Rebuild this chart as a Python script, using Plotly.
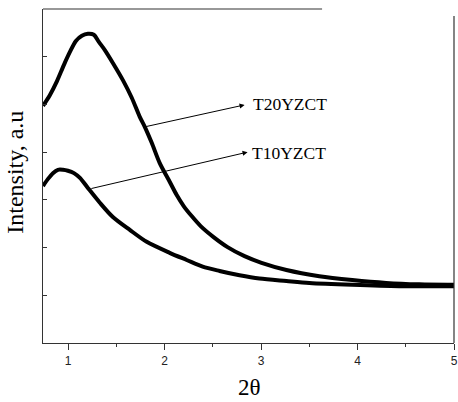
import plotly.graph_objects as go

# Small-angle XRD intensity profiles (arbitrary units)
two_theta_t20 = [0.740, 0.812, 0.885, 0.957, 1.019, 1.081, 1.143, 1.205, 1.267, 1.319,
                 1.381, 1.464, 1.568, 1.660, 1.743, 1.795, 1.868, 1.950, 2.053, 2.126,
                 2.198, 2.281, 2.374, 2.508, 2.653, 2.829, 3.005, 3.263, 3.604, 3.946,
                 4.297, 4.639, 5.0]
intensity_t20 = [4.97, 5.20, 5.49, 5.83, 6.10, 6.33, 6.44, 6.48, 6.46, 6.31,
                 6.14, 5.87, 5.51, 5.14, 4.74, 4.53, 4.19, 3.77, 3.38, 3.10,
                 2.87, 2.66, 2.45, 2.22, 2.01, 1.82, 1.68, 1.53, 1.40, 1.32,
                 1.26, 1.23, 1.22]

two_theta_t10 = [0.740, 0.792, 0.843, 0.895, 0.947, 0.998, 1.061, 1.123, 1.205, 1.329,
                 1.464, 1.640, 1.815, 2.053, 2.229, 2.395, 2.570, 2.777, 2.984, 3.263,
                 3.501, 3.946, 4.432, 5.0]
intensity_t10 = [3.29, 3.44, 3.56, 3.63, 3.63, 3.61, 3.56, 3.46, 3.25, 2.94,
                 2.64, 2.37, 2.12, 1.89, 1.74, 1.60, 1.51, 1.42, 1.35, 1.30,
                 1.26, 1.22, 1.19, 1.19]

x_ticks = [1, 2, 3, 4, 5]
sample_labels = ["T20YZCT", "T10YZCT"]

serif = "Liberation Serif, Times New Roman, serif"
sans = "Liberation Sans, Arial, sans-serif"

fig = go.Figure()
for xs, ys, name in [(two_theta_t20, intensity_t20, sample_labels[0]),
                     (two_theta_t10, intensity_t10, sample_labels[1])]:
    fig.add_trace(go.Scatter(
        x=xs, y=ys, mode="lines", name=name,
        line=dict(color="black", width=4, shape="spline", smoothing=0.8),
        showlegend=False,
    ))

# Arrows from each curve to its label
arrows = [
    dict(tail=(1.795, 4.53), head=(2.829, 4.99), text_x=2.901, text_y=5.01, label=sample_labels[0]),
    dict(tail=(1.226, 3.23), head=(2.860, 4.00), text_x=2.881, text_y=3.98, label=sample_labels[1]),
]
for a in arrows:
    fig.add_annotation(
        x=a["head"][0], y=a["head"][1], ax=a["tail"][0], ay=a["tail"][1],
        xref="x", yref="y", axref="x", ayref="y",
        showarrow=True, arrowhead=2, arrowsize=1, arrowwidth=1, arrowcolor="black",
        text="",
    )
    fig.add_annotation(
        x=a["text_x"], y=a["text_y"], xref="x", yref="y",
        text=a["label"], showarrow=False, xanchor="left", yanchor="middle",
        font=dict(family=serif, size=17.5, color="black"),
    )

# Axis titles
fig.add_annotation(
    x=-0.068, y=0.51, xref="paper", yref="paper", text="Intensity, a.u",
    textangle=-90, showarrow=False, xanchor="center", yanchor="middle",
    font=dict(family=serif, size=24, color="black"),
)
fig.add_annotation(
    x=0.502, y=-0.134, xref="paper", yref="paper", text="2θ",
    showarrow=False, xanchor="center", yanchor="middle",
    font=dict(family=serif, size=23, color="black"),
)

# Partial frame on the top and right
fig.add_shape(type="line", xref="paper", yref="paper", x0=0, x1=0.679, y0=1, y1=1,
              line=dict(color="#333333", width=1.2))
fig.add_shape(type="line", xref="paper", yref="paper", x0=1, x1=1, y0=0, y1=0.979,
              line=dict(color="#333333", width=1.2))

fig.update_xaxes(
    range=[0.74, 5.0], tickmode="array", tickvals=x_ticks,
    ticktext=[str(t) for t in x_ticks],
    ticks="outside", ticklen=6, tickwidth=1, tickcolor="#333333",
    minor=dict(ticks="outside", ticklen=3, dtick=0.5, tick0=0, tickcolor="#333333"),
    showline=True, linecolor="#333333", linewidth=1.2, mirror=False,
    showgrid=False, zeroline=False, automargin=False,
    tickfont=dict(family=sans, size=12, color="#222222"),
)
fig.update_yaxes(
    range=[0, 7], dtick=1, tick0=0, ticks="inside", ticklen=4, tickwidth=1,
    tickcolor="#333333", showticklabels=False,
    showline=True, linecolor="#333333", linewidth=1.2, mirror=False,
    showgrid=False, zeroline=False, automargin=False,
)

fig.update_layout(
    width=458, height=402,
    margin=dict(l=43, r=4, t=9, b=59, autoexpand=False),
    paper_bgcolor="white", plot_bgcolor="white",
)

fig.write_html("out.html")
